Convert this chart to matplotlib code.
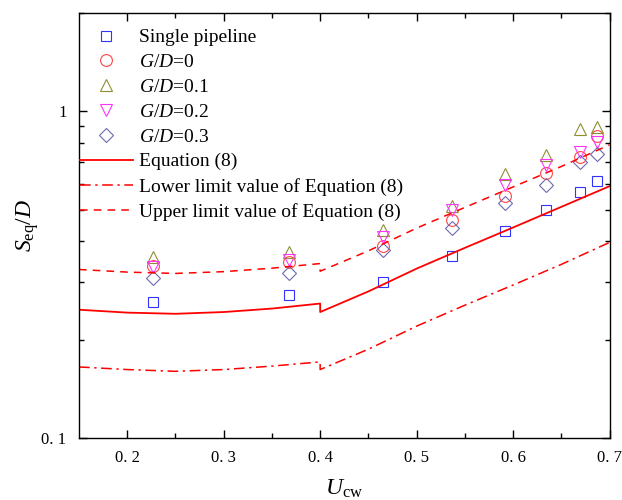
import numpy as np
import matplotlib
matplotlib.use("Agg")
import matplotlib.pyplot as plt
from matplotlib.ticker import FixedLocator, FixedFormatter, NullFormatter

plt.rcParams['font.family'] = ['Liberation Serif', 'DejaVu Serif']
plt.rcParams['mathtext.fontset'] = 'custom'
plt.rcParams['mathtext.rm'] = 'Liberation Serif'
plt.rcParams['mathtext.it'] = 'Liberation Serif:italic'

# measured points
x_pts = [0.227, 0.368, 0.465, 0.537, 0.592, 0.634, 0.669, 0.687]
single = [0.261, 0.274, 0.300, 0.360, 0.430, 0.498, 0.565, 0.612]
gd0 = [0.336, 0.345, 0.386, 0.464, 0.550, 0.646, 0.723, 0.839]
gd01 = [0.357, 0.370, 0.433, 0.512, 0.642, 0.733, 0.881, 0.894]
gd02 = [0.333, 0.350, 0.412, 0.498, 0.594, 0.684, 0.750, 0.804]
gd03 = [0.308, 0.320, 0.376, 0.439, 0.523, 0.594, 0.699, 0.739]

# equation (8) and its limits
x_eq = [0.15, 0.2, 0.25, 0.3, 0.35, 0.4, 0.4, 0.45, 0.5, 0.55, 0.6, 0.65, 0.7]
eq = [0.247, 0.242, 0.240, 0.243, 0.249, 0.258, 0.243, 0.281, 0.330, 0.382, 0.441, 0.510, 0.590]
upper = [0.328, 0.322, 0.319, 0.323, 0.331, 0.342, 0.324, 0.374, 0.439, 0.508, 0.587, 0.678, 0.790]
lower = [0.165, 0.162, 0.160, 0.162, 0.166, 0.171, 0.162, 0.187, 0.220, 0.255, 0.294, 0.340, 0.397]

fig = plt.figure(figsize=(6.22, 5), dpi=100)
ax = fig.add_axes([0.127, 0.124, 0.853, 0.85])

mk = dict(linestyle='none', markerfacecolor='none', markeredgewidth=0.8)
ax.plot(x_pts, single, marker='s', markersize=7, color='#3333ff', label='Single pipeline', **mk)
ax.plot(x_pts, gd0, marker='o', markersize=8.5, color='#ff4444', label='$G/D$=0', **mk)
ax.plot(x_pts, gd01, marker='^', markersize=9, color='#8f8f30', label='$G/D$=0.1', **mk)
ax.plot(x_pts, gd02, marker='v', markersize=9, color='#ff33ff', label='$G/D$=0.2', **mk)
ax.plot(x_pts, gd03, marker='D', markersize=7, color='#6a6ab0', label='$G/D$=0.3', **mk)

ax.plot(x_eq, eq, '-', color='#ff0000', lw=1.3, label='Equation (8)')
ax.plot(x_eq, lower, color='#ff0000', lw=1.1, dashes=(7, 3, 1.5, 3), label='Lower limit value of Equation (8)')
ax.plot(x_eq, upper, color='#ff0000', lw=1.1, dashes=(5, 4), label='Upper limit value of Equation (8)')

ax.set_yscale('log')
ax.set_xlim(0.15, 0.7)
ax.set_ylim(0.1, 2.0)

ax.xaxis.set_major_locator(FixedLocator([0.2, 0.3, 0.4, 0.5, 0.6, 0.7]))
ax.xaxis.set_major_formatter(FixedFormatter(['0. 2', '0. 3', '0. 4', '0. 5', '0. 6', '0. 7']))
ax.xaxis.set_minor_locator(FixedLocator([0.25, 0.35, 0.45, 0.55, 0.65]))
ax.yaxis.set_major_locator(FixedLocator([0.1, 1]))
ax.yaxis.set_major_formatter(FixedFormatter(['0. 1', '1']))
ax.yaxis.set_minor_locator(FixedLocator([0.2, 0.3, 0.4, 0.5, 0.6, 0.7, 0.8, 0.9, 2.0]))
ax.yaxis.set_minor_formatter(NullFormatter())

ax.tick_params(which='both', direction='in', top=True, right=True, labelsize=12, width=1.0)
ax.tick_params(which='major', length=6, pad=9)
ax.tick_params(which='minor', length=3.5)
for s in ax.spines.values():
    s.set_linewidth(1.0)

ax.set_xlabel('$U_{\\rm cw}$', fontsize=17, labelpad=8)
ax.set_ylabel('$S_{\\rm eq}/D$', fontsize=17, labelpad=0)

ax.legend(loc='upper left', bbox_to_anchor=(0.002, 0.963), frameon=False, fontsize=14,
          numpoints=1, handlelength=2.7, handletextpad=0.35, labelspacing=0.37,
          borderaxespad=0, borderpad=0)

fig.savefig('out.png', dpi=100)
